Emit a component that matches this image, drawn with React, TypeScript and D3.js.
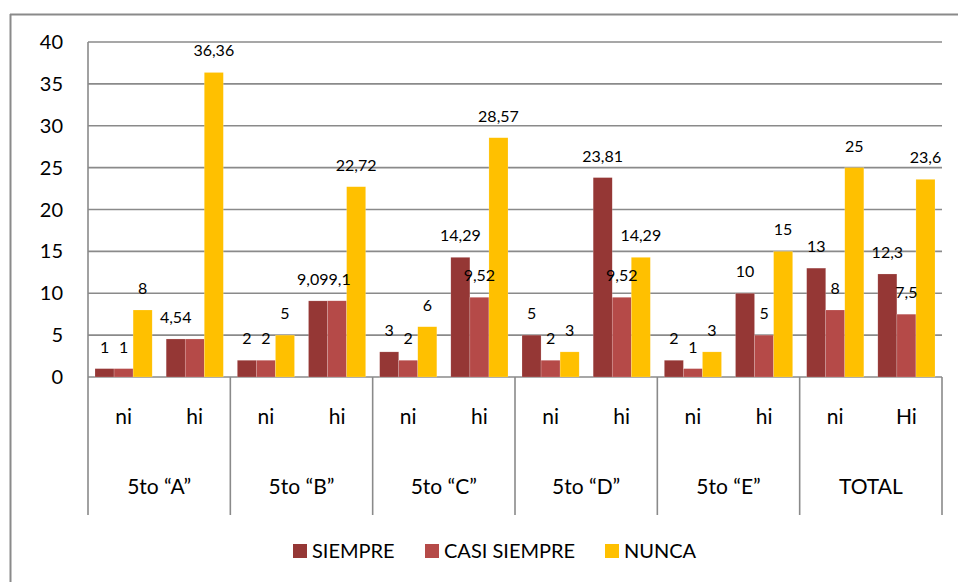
import React from "react";
import * as d3 from "d3";

const groups = ["5to \u201CA\u201D", "5to \u201CB\u201D", "5to \u201CC\u201D", "5to \u201CD\u201D", "5to \u201CE\u201D", "TOTAL"];
const subLabels = ["ni", "hi", "ni", "hi", "ni", "hi", "ni", "hi", "ni", "hi", "ni", "Hi"];
const seriesNames = ["SIEMPRE", "CASI SIEMPRE", "NUNCA"];
const seriesColors = ["#953735", "#B54A48", "#FFC000"];
const siempre = [1, 4.54, 2, 9.09, 3, 14.29, 5, 23.81, 2, 10, 13, 12.3];
const casiSiempre = [1, 4.54, 2, 9.1, 2, 9.52, 2, 9.52, 1, 5, 8, 7.5];
const nunca = [8, 36.36, 5, 22.72, 6, 28.57, 3, 14.29, 3, 15, 25, 23.6];
const showLabel = [
  [true, true, true, true, true, true, true, true, true, true, true, true],
  [true, false, true, true, true, true, true, true, true, true, true, true],
  [true, true, true, true, true, true, true, true, true, true, true, true],
];
const yTicks = [0, 5, 10, 15, 20, 25, 30, 35, 40];

const FONT = "Lato, 'Open Sans', sans-serif";

export default function App() {
  const W = 958, H = 582;
  const left = 88, right = 942, top = 42, bottom = 377, axisBottom = 515;
  const series = [siempre, casiSiempre, nunca];
  const idx = d3.range(subLabels.length).map(String);
  const x0 = d3.scaleBand<string>().domain(idx).range([left, right]).padding(0);
  const bw = x0.bandwidth();
  const x1 = d3.scaleBand<string>().domain(seriesNames).range([7, bw - 7]).padding(0);
  const y = d3.scaleLinear().domain([0, 40]).range([bottom, top]);
  const grid = "#8a8a8a";
  const fmt = (v: number) => String(v).replace(".", ",");
  const groupW = bw * 2;

  // labels of two adjacent bars with nearly equal height are set side by side
  const labelPlacement = (s: number, i: number) => {
    const cx = (x0(String(i)) as number) + (x1(seriesNames[s]) as number) + x1.bandwidth() / 2;
    const next = s < 2 ? series[s + 1][i] : null;
    const prev = s > 0 ? series[s - 1][i] : null;
    const v = series[s][i];
    if (s === 0 && next !== null && Math.abs(next - v) < 0.5 && v > 5 && showLabel[1][i]) {
      return { x: cx + x1.bandwidth() / 2 + 1, anchor: "end" };
    }
    if (s === 1 && prev !== null && Math.abs(prev - v) < 0.5 && v > 5 && showLabel[0][i]) {
      return { x: cx - x1.bandwidth() / 2 + 1, anchor: "start" };
    }
    return { x: cx, anchor: "middle" };
  };

  const legendItems = [
    { x: 293, name: seriesNames[0], color: seriesColors[0] },
    { x: 425, name: seriesNames[1], color: seriesColors[1] },
    { x: 605, name: seriesNames[2], color: seriesColors[2] },
  ];

  return (
    <svg width={W} height={H} style={{ position: "absolute", left: 0, top: 0, background: "#fff" }} fontFamily={FONT}>
      <rect x={0} y={0} width={W} height={H} fill="#fff" />
      {/* outer border */}
      <line x1={10.5} y1={14} x2={10.5} y2={H} stroke={grid} strokeWidth={2} />
      <line x1={10} y1={14.5} x2={W} y2={14.5} stroke={grid} strokeWidth={2} />
      {/* gridlines */}
      {yTicks.map((t) => (
        <line key={"g" + t} x1={left} x2={right} y1={y(t)} y2={y(t)} stroke={grid} strokeWidth={1.6} />
      ))}
      {/* y tick labels */}
      {yTicks.map((t) => (
        <text key={"t" + t} x={63} y={y(t) + 7} textAnchor="end" fontSize={20} fill="#000">
          {t}
        </text>
      ))}
      {/* bars */}
      {series.map((vals, s) =>
        vals.map((v, i) => (
          <rect
            key={`b${s}-${i}`}
            x={(x0(String(i)) as number) + (x1(seriesNames[s]) as number)}
            y={y(v)}
            width={x1.bandwidth()}
            height={y(0) - y(v)}
            fill={seriesColors[s]}
            stroke="#ffffff"
            strokeOpacity={0.35}
            strokeWidth={0.5}
          />
        ))
      )}
      {/* data labels */}
      {series.map((vals, s) =>
        vals.map((v, i) => {
          if (!showLabel[s][i]) return null;
          const p = labelPlacement(s, i);
          return (
            <text
              key={`l${s}-${i}`}
              x={p.x}
              y={y(v) - 16}
              textAnchor={p.anchor as any}
              fontSize={16}
              fill="#000"
            >
              {fmt(v)}
            </text>
          );
        })
      )}
      {/* axes */}
      <line x1={left} x2={left} y1={top} y2={axisBottom} stroke={grid} strokeWidth={1.6} />
      {groups.map((g, gi) => (
        <line
          key={"d" + gi}
          x1={left + groupW * (gi + 1)}
          x2={left + groupW * (gi + 1)}
          y1={bottom}
          y2={axisBottom}
          stroke={grid}
          strokeWidth={1.6}
        />
      ))}
      {subLabels.map((l, i) => (
        <text
          key={"s" + i}
          x={(x0(String(i)) as number) + bw / 2}
          y={424}
          textAnchor="middle"
          fontSize={21}
          fill="#000"
        >
          {l}
        </text>
      ))}
      {groups.map((g, gi) => (
        <text key={"gl" + gi} x={left + groupW * gi + groupW / 2} y={494} textAnchor="middle" fontSize={21} fill="#000">
          {g}
        </text>
      ))}
      {/* legend */}
      {legendItems.map((it) => (
        <g key={it.name}>
          <rect x={it.x} y={544} width={14} height={14} fill={it.color} />
          <text x={it.x + 19} y={558} fontSize={20} fill="#000">
            {it.name}
          </text>
        </g>
      ))}
    </svg>
  );
}
